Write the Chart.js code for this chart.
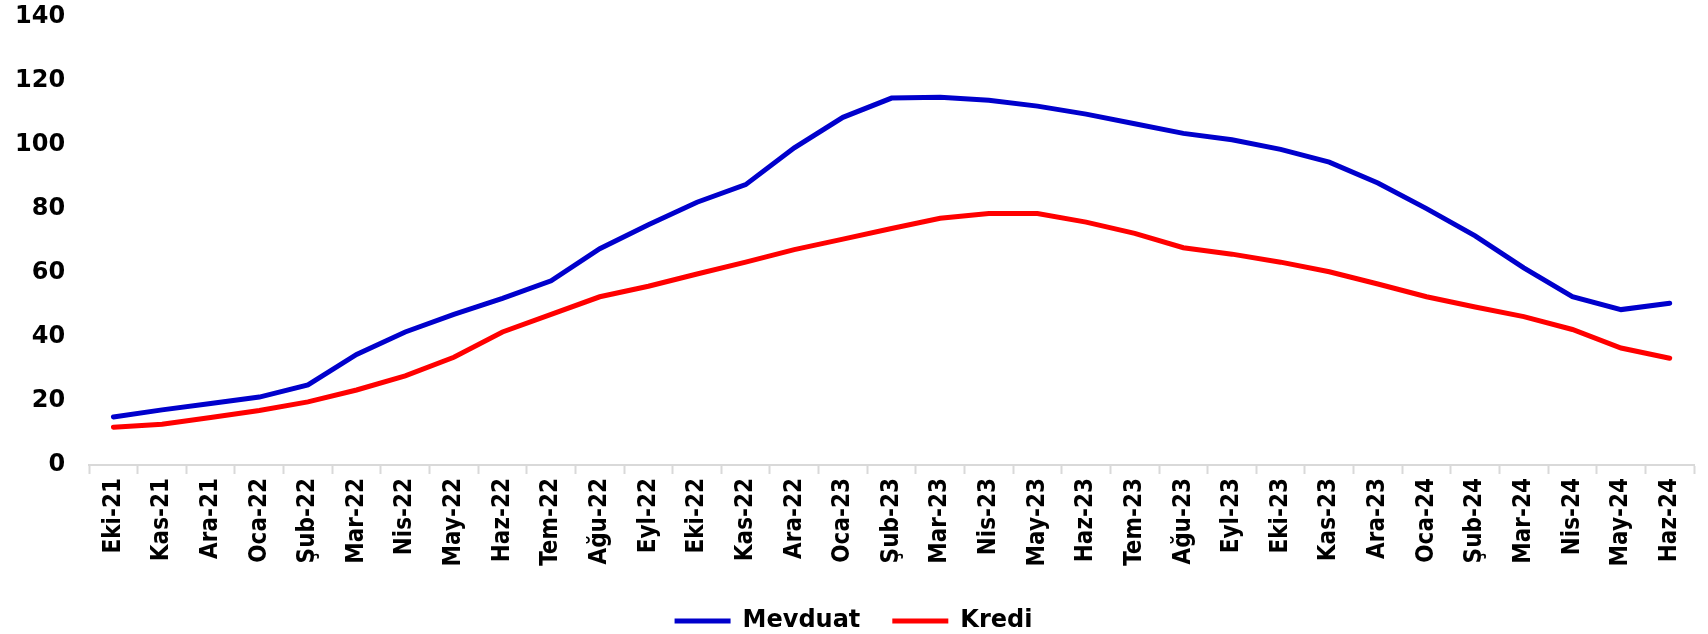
<!DOCTYPE html>
<html lang="tr">
<head>
    <meta charset="UTF-8">
    <title>Mevduat ve Kredi</title>
    <style>
        * { margin: 0; padding: 0; box-sizing: border-box; }
        body { background: #fff; width: 1708px; height: 634px; overflow: hidden; }
        .chart-box { position: relative; width: 1708px; height: 634px; }
    </style>
</head>
<body>
<div class="chart-box">
    <canvas id="lineChart"></canvas>
</div>

<script src="https://cdn.jsdelivr.net/npm/chart.js"></script>
<script>
    // aylar (Eki-21 .. Haz-24)
    const months = [
        "Eki-21", "Kas-21", "Ara-21", "Oca-22", "Şub-22", "Mar-22", "Nis-22", "May-22",
        "Haz-22", "Tem-22", "Ağu-22", "Eyl-22", "Eki-22", "Kas-22", "Ara-22", "Oca-23",
        "Şub-23", "Mar-23", "Nis-23", "May-23", "Haz-23", "Tem-23", "Ağu-23", "Eyl-23",
        "Eki-23", "Kas-23", "Ara-23", "Oca-24", "Şub-24", "Mar-24", "Nis-24", "May-24", "Haz-24"
    ];

    const mevduat = [
        15, 17.2, 19.2, 21.2, 25, 34.5, 41.5, 47, 52, 57.5, 67.5, 75, 82, 87.5, 99, 108.5,
        114.5, 114.8, 113.8, 112, 109.5, 106.5, 103.5, 101.5, 98.5, 94.5, 88, 80, 71.5,
        61.5, 52.5, 48.5, 50.5
    ];

    const kredi = [
        11.8, 12.7, 14.8, 17, 19.7, 23.4, 27.8, 33.6, 41.5, 47, 52.5, 55.8, 59.6, 63.3,
        67.2, 70.5, 73.8, 77, 78.5, 78.5, 75.8, 72.3, 67.8, 65.8, 63.3, 60.3, 56.5, 52.5,
        49.3, 46.3, 42.3, 36.5, 33.3
    ];

    const yTicks = [0, 20, 40, 60, 80, 100, 120, 140];

    const ctx = document.getElementById("lineChart").getContext("2d");

    new Chart(ctx, {
        type: "line",
        data: {
            labels: months,
            datasets: [
                {
                    label: "Mevduat",
                    data: mevduat,
                    borderColor: "#0000CC",
                    backgroundColor: "#0000CC",
                    borderWidth: 5,
                    borderCapStyle: "round",
                    pointRadius: 0,
                    tension: 0
                },
                {
                    label: "Kredi",
                    data: kredi,
                    borderColor: "#FF0000",
                    backgroundColor: "#FF0000",
                    borderWidth: 5,
                    borderCapStyle: "round",
                    pointRadius: 0,
                    tension: 0
                }
            ]
        },
        options: {
            responsive: true,
            maintainAspectRatio: false,
            animation: false,
            layout: { padding: { left: 13, right: 14, top: 0, bottom: -9 } },
            plugins: {
                tooltip: { enabled: false },
                legend: {
                    position: "bottom",
                    labels: {
                        usePointStyle: true,
                        pointStyle: "line",
                        pointStyleWidth: 56,
                        padding: 32,
                        color: "#000",
                        font: { family: "'DejaVu Sans', sans-serif", size: 24, weight: "bold" }
                    }
                }
            },
            scales: {
                x: {
                    offset: true,
                    afterFit: scale => { scale.height = 112; },
                    grid: {
                        display: true,
                        offset: true,
                        drawOnChartArea: false,
                        drawTicks: true,
                        tickLength: 9,
                        tickWidth: 2,
                        tickColor: "#D9D9D9"
                    },
                    border: { display: true, color: "#D9D9D9", width: 2 },
                    ticks: {
                        autoSkip: false,
                        maxRotation: 90,
                        minRotation: 90,
                        padding: 4,
                        color: "#000",
                        font: { family: "'Liberation Sans Narrow', 'DejaVu Sans Condensed', sans-serif", size: 24, weight: "bold" }
                    }
                },
                y: {
                    min: 0,
                    max: 140,
                    afterBuildTicks: axis => { axis.ticks = yTicks.map(v => ({ value: v })); },
                    // görünmez tick çizgisi etiketleri eksenden uzaklaştırıyor
                    grid: {
                        display: true,
                        drawOnChartArea: false,
                        drawTicks: true,
                        tickLength: 22,
                        tickColor: "rgba(0,0,0,0)"
                    },
                    border: { display: false },
                    ticks: {
                        padding: 2,
                        color: "#000",
                        font: { family: "'DejaVu Sans', sans-serif", size: 24, weight: "bold" }
                    }
                }
            }
        }
    });
</script>
</body>
</html>
